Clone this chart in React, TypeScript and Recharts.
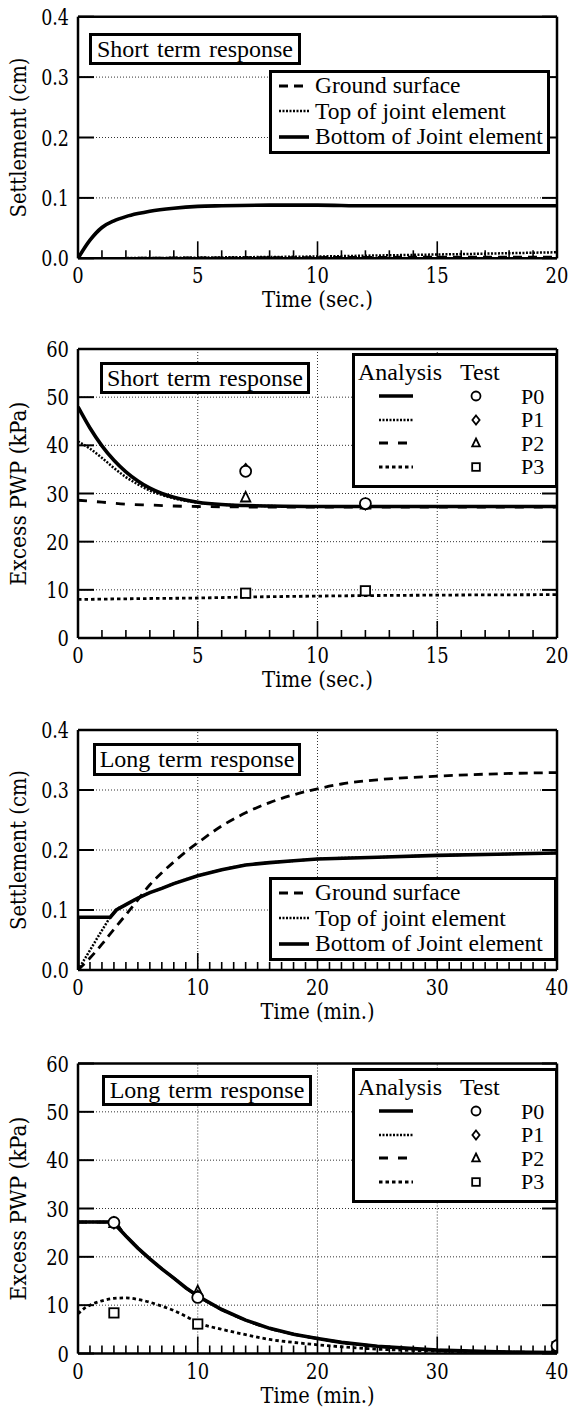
import React from "react";
import { ComposedChart, Line, Scatter, XAxis, YAxis, ReferenceLine, Legend } from "recharts";

type Pt = [number, number];
type MarkerKind = "circle" | "diamond" | "triangle" | "square";

const FONT = '"Liberation Serif", "Times New Roman", Times, serif';
// inside the svg only DejaVu Serif resolves here; it is squeezed to Times widths with textLength
const SVG_FONT = "DejaVu Serif";

// ---- short term settlement (time in sec., settlement in cm)
const shortGround: Pt[] = [[0, 0], [2, 0], [4, 0.0005], [8, 0.001], [12, 0.0015], [16, 0.002], [20, 0.002]];
const shortTop: Pt[] = [[0, 0], [3, 0.0005], [6, 0.0015], [10, 0.003], [13, 0.005], [16, 0.007], [20, 0.01]];
const shortBottom: Pt[] = [
  [0, 0], [0.5, 0.03], [1, 0.051], [1.5, 0.062], [2, 0.069], [2.5, 0.074], [3, 0.078], [4, 0.083],
  [5, 0.086], [6, 0.087], [8, 0.088], [10, 0.088], [12, 0.087], [15, 0.087], [20, 0.087],
];

// ---- short term excess pore water pressure (kPa)
const shortP0: Pt[] = [
  [0, 48], [0.5, 43.6], [1, 39.9], [1.5, 36.9], [2, 34.5], [2.5, 32.6], [3, 31.1], [3.5, 30], [4, 29.2],
  [5, 28.2], [6, 27.7], [7, 27.5], [8, 27.4], [10, 27.3], [14, 27.3], [20, 27.3],
];
const shortP1: Pt[] = [
  [0, 40.8], [0.5, 39.3], [1, 37.4], [1.5, 35.3], [2, 33.4], [2.5, 31.9], [3, 30.6], [3.5, 29.7], [4, 29],
  [5, 28.1], [6, 27.7], [7, 27.5], [8, 27.4], [10, 27.3], [14, 27.3], [20, 27.3],
];
const shortP2: Pt[] = [[0, 28.6], [1, 28.2], [2, 27.8], [3, 27.6], [4, 27.4], [5, 27.3], [7, 27.2], [10, 27.2], [15, 27.2], [20, 27.2]];
const shortP3: Pt[] = [[0, 8], [3, 8.2], [5, 8.3], [7, 8.5], [10, 8.7], [12, 8.8], [15, 8.9], [20, 9]];
const shortTestP0: Pt[] = [[7, 34.6], [12, 27.9]];
const shortTestP1: Pt[] = [[7, 35.0], [12, 27.8]];
const shortTestP2: Pt[] = [[7, 29.2], [12, 27.7]];
const shortTestP3: Pt[] = [[7, 9.3], [12, 9.8]];

// ---- long term settlement (time in min.)
const longGround: Pt[] = [
  [0, 0], [1, 0.02], [2, 0.043], [3, 0.068], [4, 0.092], [5, 0.117], [6, 0.142], [7, 0.162], [8, 0.18],
  [9, 0.197], [10, 0.212], [12, 0.24], [14, 0.262], [16, 0.279], [18, 0.292], [20, 0.302], [22, 0.31],
  [25, 0.317], [30, 0.323], [35, 0.327], [40, 0.329],
];
const longTop: Pt[] = [
  [0, 0], [1, 0.033], [2, 0.066], [2.7, 0.088], [3.2, 0.1], [4, 0.109], [5, 0.12], [6, 0.129], [7, 0.136],
  [8, 0.144], [10, 0.157], [12, 0.167], [14, 0.175], [16, 0.179], [18, 0.182], [20, 0.185], [25, 0.188],
  [30, 0.191], [35, 0.193], [40, 0.195],
];
const longBottom: Pt[] = [
  [0, 0], [0, 0.088], [2.7, 0.088], [3.2, 0.1], [4, 0.109], [5, 0.12], [6, 0.129], [7, 0.136], [8, 0.144],
  [10, 0.157], [12, 0.167], [14, 0.175], [16, 0.179], [18, 0.182], [20, 0.185], [25, 0.188], [30, 0.191],
  [35, 0.193], [40, 0.195],
];

// ---- long term excess pore water pressure (kPa)
const longP0: Pt[] = [
  [0, 27.2], [2.9, 27.2], [4, 24.3], [5, 21.8], [6, 19.6], [7, 17.5], [8, 15.6], [9, 13.6], [10, 11.9],
  [12, 9.1], [14, 6.9], [16, 5.2], [18, 4.0], [20, 3.1], [22, 2.3], [25, 1.5], [30, 0.7], [35, 0.35], [40, 0.2],
];
// P1 and P2 lie on top of P0 in the figure
const longP1: Pt[] = longP0;
const longP2: Pt[] = longP0;
const longP3: Pt[] = [
  [0, 8.2], [0.5, 9.3], [1, 10], [2, 10.9], [3, 11.4], [4, 11.5], [5, 11.2], [6, 10.6], [7, 9.8], [8, 8.9],
  [9, 7.7], [10, 6.4], [12, 5.0], [14, 3.9], [16, 2.9], [18, 2.3], [20, 1.8], [25, 0.9], [30, 0.5], [35, 0.25], [40, 0.1],
];
const longTestP0: Pt[] = [[3, 27.1], [10, 11.6], [40, 1.6]];
const longTestP1: Pt[] = [[3, 27.0], [10, 11.9], [40, 1.8]];
const longTestP2: Pt[] = [[3, 27.0], [10, 12.9], [40, 1.5]];
const longTestP3: Pt[] = [[3, 8.4], [10, 6.1], [40, 1.4]];

// ---- axes
const secTicks = [0, 1, 2, 3, 4, 5, 6, 7, 8, 9, 10, 11, 12, 13, 14, 15, 16, 17, 18, 19, 20];
const secMajor = [0, 5, 10, 15, 20];
const minTicks = [
  0, 1, 2, 3, 4, 5, 6, 7, 8, 9, 10, 11, 12, 13, 14, 15, 16, 17, 18, 19, 20,
  21, 22, 23, 24, 25, 26, 27, 28, 29, 30, 31, 32, 33, 34, 35, 36, 37, 38, 39, 40,
];
const minMajor = [0, 10, 20, 30, 40];
const cmTicks = [0, 0.1, 0.2, 0.3, 0.4];
const kpaTicks = [0, 10, 20, 30, 40, 50, 60];

const settleNames = ["Ground surface", "Top of joint element", "Bottom of Joint element"];
const pwpNames = ["P0", "P1", "P2", "P3"];

// ---- styles
const SOLID = { stroke: "#000", strokeWidth: 3.6 };
const DOTTED = { stroke: "#000", strokeWidth: 2.5, strokeDasharray: "2 1.5" };
const DASHED = { stroke: "#000", strokeWidth: 2.8, strokeDasharray: "9 6" };
const LONGDASH = { stroke: "#000", strokeWidth: 2.8, strokeDasharray: "9 10" };
const SHORTDASH = { stroke: "#000", strokeWidth: 2.8, strokeDasharray: "3.5 3" };
const FRAME = { stroke: "#000", strokeWidth: 2.5 };
const GRID = { stroke: "#333", strokeWidth: 1, strokeDasharray: "1 2" };

const settleStyles = [DASHED, DOTTED, SOLID];
const pwpStyles = [SOLID, DOTTED, LONGDASH, SHORTDASH];
const pwpMarkers: MarkerKind[] = ["circle", "diamond", "triangle", "square"];

const W = 585;
const PLOT_LEFT = 78;
const PLOT_RIGHT = 557;
const Y_AXIS_W = 56;
const R_AXIS_W = 10;
const T_AXIS_H = 10;
const B_AXIS_H = 56;
const GAP = 10; // tickSize 6 + tickMargin 4

const rows = (pts: Pt[]) => pts.map(([t, v]) => ({ t, v }));
// width of a tick label set in Times at 23px
const numWidth = (s: string) => s.split("").reduce((w, c) => w + (c === "." ? 5 : 11.4), 0);

function Marker({ kind, cx, cy, r = 5.5 }: { kind: MarkerKind; cx: number; cy: number; r?: number }) {
  const s = { fill: "#fff", stroke: "#000", strokeWidth: 1.8 };
  if (kind === "circle") return <circle cx={cx} cy={cy} r={r} {...s} />;
  if (kind === "diamond")
    return <polygon points={`${cx},${cy - r} ${cx + r * 0.8},${cy} ${cx},${cy + r} ${cx - r * 0.8},${cy}`} {...s} />;
  if (kind === "triangle")
    return <polygon points={`${cx},${cy - r} ${cx + r * 0.85},${cy + r * 0.75} ${cx - r * 0.85},${cy + r * 0.75}`} {...s} />;
  return <rect x={cx - r * 0.85} y={cy - r * 0.85} width={r * 1.7} height={r * 1.7} {...s} />;
}

// inward pointing ticks, labels only on the major ones
const bottomTick = (major: number[]) => (p: any) => {
  const axisY = p.y - GAP;
  const isMajor = major.includes(p.payload.value);
  const label = String(p.payload.value);
  return (
    <g>
      <line x1={p.x} x2={p.x} y1={axisY} y2={axisY - (isMajor ? 17 : 8)} stroke="#000" strokeWidth={1.6} />
      {isMajor && (
        <text
          x={p.x} y={axisY + 25} textAnchor="middle" fontFamily={SVG_FONT} fontSize={22} fill="#000"
          textLength={numWidth(label)} lengthAdjust="spacingAndGlyphs"
        >
          {label}
        </text>
      )}
    </g>
  );
};

const topTick = (major: number[]) => (p: any) => {
  const axisY = p.y + GAP;
  const isMajor = major.includes(p.payload.value);
  return <line x1={p.x} x2={p.x} y1={axisY} y2={axisY + (isMajor ? 15 : 8)} stroke="#000" strokeWidth={1.6} />;
};

const leftTick = (decimals: number) => (p: any) => {
  const axisX = p.x + GAP;
  const label = Number(p.payload.value).toFixed(decimals);
  return (
    <g>
      <line x1={axisX} x2={axisX + 16} y1={p.y} y2={p.y} stroke="#000" strokeWidth={2} />
      <text
        x={axisX - 9} y={p.y + 8} textAnchor="end" fontFamily={SVG_FONT} fontSize={22} fill="#000"
        textLength={numWidth(label)} lengthAdjust="spacingAndGlyphs"
      >
        {label}
      </text>
    </g>
  );
};

const rightTick = (p: any) => {
  const axisX = p.x - GAP;
  return <line x1={axisX} x2={axisX - 15} y1={p.y} y2={p.y} stroke="#000" strokeWidth={2} />;
};

function SettlementKey({ width }: { width: number }) {
  return (
    <div
      style={{
        width, boxSizing: "border-box", border: "3px solid #000", background: "#fff",
        fontFamily: FONT, fontSize: 23.5, color: "#000", paddingBottom: 1,
      }}
    >
      {settleNames.map((name, i) => (
        <div key={name} style={{ display: "flex", alignItems: "center", height: 25.5 }}>
          <svg width={43} height={10} style={{ flex: "none" }}>
            <line x1={7} x2={37} y1={5} y2={5} {...settleStyles[i]} />
          </svg>
          <span style={{ whiteSpace: "nowrap", lineHeight: "25px" }}>{name}</span>
        </div>
      ))}
    </div>
  );
}

function PwpKey() {
  const rowY = [43, 66.5, 90, 113.5];
  const txt = { position: "absolute" as const, fontFamily: FONT, color: "#000", whiteSpace: "nowrap" as const };
  return (
    <div style={{ position: "relative", width: 206, height: 135, boxSizing: "border-box", border: "3px solid #000", background: "#fff" }}>
      <div style={{ ...txt, fontSize: 24, lineHeight: "24px", left: 3, top: 4 }}>Analysis</div>
      <div style={{ ...txt, fontSize: 24, lineHeight: "24px", left: 105, top: 4 }}>Test</div>
      {pwpNames.map((name, i) => (
        <React.Fragment key={name}>
          <svg width={200} height={16} style={{ position: "absolute", left: 0, top: rowY[i] - 11 }}>
            <line x1={24} x2={58} y1={8} y2={8} {...pwpStyles[i]} />
            <Marker kind={pwpMarkers[i]} cx={121} cy={8} r={4.5} />
          </svg>
          <div style={{ ...txt, fontSize: 22, lineHeight: "22px", left: 166, top: rowY[i] - 13.5 }}>{name}</div>
        </React.Fragment>
      ))}
    </div>
  );
}

interface Series { pts: Pt[]; style: any; curve?: "monotone" | "linear"; }
interface Marks { pts: Pt[]; kind: MarkerKind; }
interface Box { left: number; top: number; width: number; height: number; }

interface PanelProps {
  top: number;
  height: number;
  plotTop: number;
  plotBottom: number;
  xMax: number;
  xTicks: number[];
  xMajor: number[];
  xTitle: string;
  xTitleW: number;
  yMax: number;
  yTicks: number[];
  yDecimals: number;
  yTitle: string;
  yTitleW: number;
  vGrid: boolean;
  lines: Series[];
  marks?: Marks[];
  title: string;
  titleBox: Box;
  legend: React.ReactNode;
  legendAt: { left: number; top: number };
}

function Panel(p: PanelProps) {
  const margin = {
    top: p.plotTop - T_AXIS_H,
    bottom: p.height - p.plotBottom - B_AXIS_H,
    left: PLOT_LEFT - Y_AXIS_W,
    right: W - PLOT_RIGHT - R_AXIS_W,
  };
  const midY = (p.plotTop + p.plotBottom) / 2;
  const midX = (PLOT_LEFT + PLOT_RIGHT) / 2;
  const inner = (vals: number[], max: number) => vals.filter((v) => v > 0 && v < max);
  return (
    <div style={{ position: "absolute", left: 0, top: p.top, width: W, height: p.height }}>
      <ComposedChart width={W} height={p.height} margin={margin}>
        <XAxis
          type="number" dataKey="t" domain={[0, p.xMax]} ticks={p.xTicks} interval={0} allowDataOverflow
          height={B_AXIS_H} tickSize={6} tickMargin={4} tickLine={false} axisLine={FRAME} tick={bottomTick(p.xMajor)}
          label={{
            content: () => (
              <text
                x={midX} y={p.plotBottom + 49} textAnchor="middle" fontFamily={SVG_FONT} fontSize={22} fill="#000"
                textLength={p.xTitleW} lengthAdjust="spacingAndGlyphs"
              >
                {p.xTitle}
              </text>
            ),
          }}
        />
        <XAxis
          xAxisId="top" orientation="top" type="number" domain={[0, p.xMax]} ticks={p.xTicks} interval={0}
          allowDataOverflow height={T_AXIS_H} tickSize={6} tickMargin={4} tickLine={false} axisLine={FRAME}
          tick={topTick(p.xMajor)}
        />
        <YAxis
          type="number" domain={[0, p.yMax]} ticks={p.yTicks} interval={0} allowDataOverflow width={Y_AXIS_W}
          tickSize={6} tickMargin={4} tickLine={false} axisLine={FRAME} tick={leftTick(p.yDecimals)}
          label={{
            content: () => (
              <text
                transform={`translate(26,${midY}) rotate(-90)`} textAnchor="middle" fontFamily={SVG_FONT} fontSize={22}
                fill="#000" textLength={p.yTitleW} lengthAdjust="spacingAndGlyphs"
              >
                {p.yTitle}
              </text>
            ),
          }}
        />
        <YAxis
          yAxisId="right" orientation="right" type="number" domain={[0, p.yMax]} ticks={p.yTicks} interval={0}
          allowDataOverflow width={R_AXIS_W} tickSize={6} tickMargin={4} tickLine={false} axisLine={FRAME} tick={rightTick}
        />
        {inner(p.yTicks, p.yMax).map((v) => (
          <ReferenceLine key={`y${v}`} y={v} {...GRID} />
        ))}
        {p.vGrid && inner(p.xMajor, p.xMax).map((v) => <ReferenceLine key={`x${v}`} x={v} {...GRID} />)}
        {p.lines.map((s, i) => (
          <Line
            key={`l${i}`} data={rows(s.pts)} dataKey="v" type={s.curve ?? "monotone"} dot={false}
            activeDot={false} isAnimationActive={false} {...s.style}
          />
        ))}
        {(p.marks ?? []).map((m, i) => (
          <Scatter
            key={`m${i}`} data={rows(m.pts)} dataKey="v" isAnimationActive={false}
            shape={(sp: any) => <Marker kind={m.kind} cx={sp.cx} cy={sp.cy} />}
          />
        ))}
        <Legend
          layout="vertical" align="center" verticalAlign="middle"
          wrapperStyle={{ left: p.legendAt.left, top: p.legendAt.top }}
          content={() => p.legend}
        />
      </ComposedChart>
      <div
        style={{
          position: "absolute", left: p.titleBox.left, top: p.titleBox.top, width: p.titleBox.width,
          height: p.titleBox.height, boxSizing: "border-box", border: "3px solid #000", background: "#fff",
          display: "flex", alignItems: "center", justifyContent: "center", fontFamily: FONT, fontSize: 24,
          wordSpacing: 2, color: "#000", whiteSpace: "nowrap",
        }}
      >
        {p.title}
      </div>
    </div>
  );
}

export default function App() {
  return (
    <div style={{ position: "absolute", left: 0, top: 0, width: W, height: 1410, background: "#fff", overflow: "hidden" }}>
      <Panel
        top={0} height={330} plotTop={16.7} plotBottom={258.3}
        xMax={20} xTicks={secTicks} xMajor={secMajor} xTitle="Time (sec.)" xTitleW={111}
        yMax={0.4} yTicks={cmTicks} yDecimals={1} yTitle="Settlement (cm)" yTitleW={160} vGrid={false}
        lines={[
          { pts: shortGround, style: DASHED },
          { pts: shortTop, style: DOTTED },
          { pts: shortBottom, style: SOLID },
        ]}
        title="Short term response" titleBox={{ left: 89, top: 33, width: 212, height: 32 }}
        legend={<SettlementKey width={281} />} legendAt={{ left: 269, top: 70 }}
      />
      <Panel
        top={330} height={370} plotTop={19} plotBottom={308}
        xMax={20} xTicks={secTicks} xMajor={secMajor} xTitle="Time (sec.)" xTitleW={111}
        yMax={60} yTicks={kpaTicks} yDecimals={0} yTitle="Excess PWP (kPa)" yTitleW={184} vGrid
        lines={[
          { pts: shortP0, style: SOLID },
          { pts: shortP1, style: DOTTED },
          { pts: shortP2, style: LONGDASH },
          { pts: shortP3, style: SHORTDASH },
        ]}
        marks={[
          { pts: shortTestP2, kind: "triangle" },
          { pts: shortTestP3, kind: "square" },
          { pts: shortTestP1, kind: "diamond" },
          { pts: shortTestP0, kind: "circle" },
        ]}
        title="Short term response" titleBox={{ left: 100, top: 32, width: 210, height: 32 }}
        legend={<PwpKey />} legendAt={{ left: 352, top: 23 }}
      />
      <Panel
        top={700} height={330} plotTop={30} plotBottom={270}
        xMax={40} xTicks={minTicks} xMajor={minMajor} xTitle="Time (min.)" xTitleW={114}
        yMax={0.4} yTicks={cmTicks} yDecimals={1} yTitle="Settlement (cm)" yTitleW={160} vGrid
        lines={[
          { pts: longGround, style: DASHED },
          { pts: longTop, style: DOTTED },
          { pts: longBottom, style: SOLID, curve: "linear" },
        ]}
        title="Long term response" titleBox={{ left: 93, top: 43, width: 208, height: 33 }}
        legend={<SettlementKey width={288} />} legendAt={{ left: 269, top: 177 }}
      />
      <Panel
        top={1030} height={380} plotTop={33.5} plotBottom={323.5}
        xMax={40} xTicks={minTicks} xMajor={minMajor} xTitle="Time (min.)" xTitleW={114}
        yMax={60} yTicks={kpaTicks} yDecimals={0} yTitle="Excess PWP (kPa)" yTitleW={184} vGrid
        lines={[
          { pts: longP3, style: SHORTDASH },
          { pts: longP2, style: LONGDASH },
          { pts: longP1, style: DOTTED },
          { pts: longP0, style: SOLID, curve: "linear" },
        ]}
        marks={[
          { pts: longTestP2, kind: "triangle" },
          { pts: longTestP3, kind: "square" },
          { pts: longTestP1, kind: "diamond" },
          { pts: longTestP0, kind: "circle" },
        ]}
        title="Long term response" titleBox={{ left: 102, top: 45, width: 210, height: 31 }}
        legend={<PwpKey />} legendAt={{ left: 352, top: 38 }}
      />
    </div>
  );
}
